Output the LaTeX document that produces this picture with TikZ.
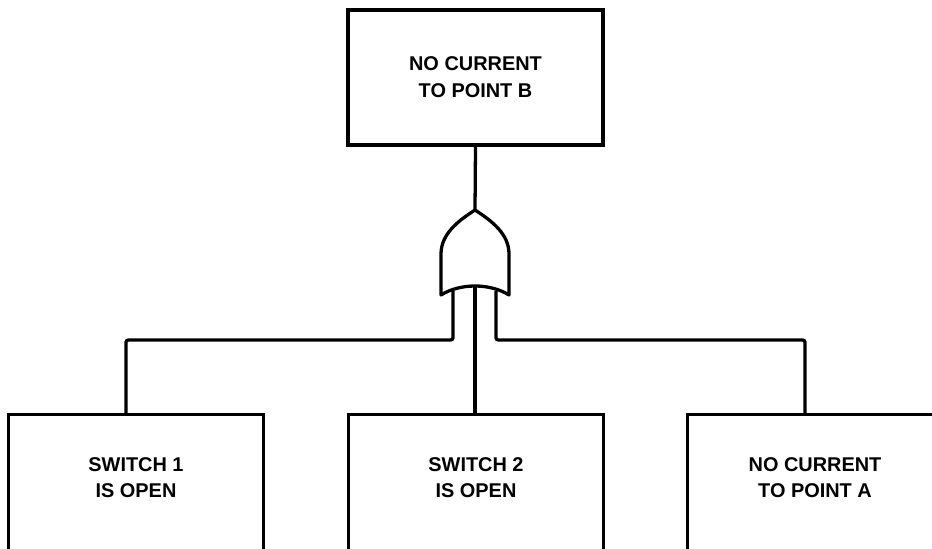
\documentclass[tikz,border=0pt]{standalone}
\usepackage{fontspec}
\setmainfont{Liberation Sans}
\usetikzlibrary{positioning, calc}

\begin{document}
\begin{tikzpicture}[
      x=0.03cm, y=-0.03cm,
      event/.style={rectangle, draw, line width=2.8pt, minimum width=7.65cm, minimum height=4.05cm, align=center, font=\fontsize{17}{23}\selectfont\bfseries},
      leaf/.style={rectangle, draw, line width=2.8pt, minimum width=7.65cm, inner sep=0pt, anchor=north, align=center, text height=2.49cm, text depth=4cm, font=\fontsize{17}{22}\selectfont\bfseries},
      gate/.style={line width=2.8pt, line join=round},
      wire/.style={line width=2.8pt, rounded corners=2pt}
    ]
    \clip (0,0) rectangle (932,548);

    \node[event] (top) at (475.5,77.5) {NO CURRENT\\TO POINT B};
    \node[leaf] (s1) at (136,413) {SWITCH 1\\IS OPEN};
    \node[leaf] (s2) at (476,413) {SWITCH 2\\IS OPEN};
    \node[leaf] (s3) at (815,413) {NO CURRENT\\TO POINT A};

    % OR gate
    \draw[gate] (441,295) -- (441,254) .. controls (441,234) and (458,221) .. (475,210)
      .. controls (492,221) and (509,234) .. (509,254) -- (509,295)
      .. controls (490,283) and (460,283) .. cycle;
    \coordinate (gtip) at (475,210);
    \coordinate (inL) at (453,291);
    \coordinate (inM) at (475,287);
    \coordinate (inR) at (496,291);
    \coordinate (busL) at (453,340);
    \coordinate (busR) at (496,340);

    \draw[wire] (top.south) -- (gtip);
    \draw[wire] (inL) -- (busL) -| ([xshift=-0.3cm]s1.north);
    \draw[wire] (inM) -- (inM |- s2.north);
    \draw[wire] (inR) -- (busR) -| ([xshift=-0.3cm]s3.north);
  \end{tikzpicture}
\end{document}
